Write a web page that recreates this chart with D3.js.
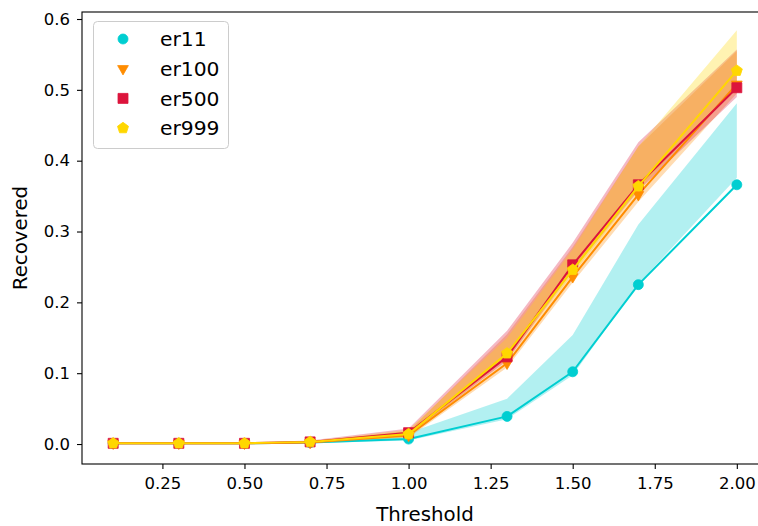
<!DOCTYPE html>
<html>
<head>
<meta charset="utf-8">
<script src="https://cdn.jsdelivr.net/npm/d3@7"></script>
<style>
  html, body { margin: 0; padding: 0; background: #fff; overflow: hidden; }
  svg { display: block; font-family: "DejaVu Sans", sans-serif; }
</style>
</head>
<body>
<svg id="chart" width="758" height="526"></svg>
<script>
// ---- data ----
const thresholds = [0.1, 0.3, 0.5, 0.7, 1.0, 1.3, 1.5, 1.7, 2.0];
const seriesNames = ["er11", "er100", "er500", "er999"];
const seriesColors = ["#00CED1", "#FF8C00", "#DC143C", "#FFD700"];
const seriesMarkers = ["circle", "triangleDown", "square", "pentagon"];

const er11   = [0.001, 0.001, 0.001, 0.002, 0.007, 0.039, 0.102, 0.225, 0.366];
const er11Lo = [0.000, 0.000, 0.000, 0.001, 0.005, 0.035, 0.097, 0.226, 0.376];
const er11Hi = [0.002, 0.002, 0.002, 0.003, 0.016, 0.064, 0.154, 0.310, 0.481];

const er100   = [0.001, 0.001, 0.001, 0.002, 0.012, 0.114, 0.236, 0.352, 0.508];
const er100Lo = [0.000, 0.000, 0.000, 0.001, 0.009, 0.108, 0.228, 0.342, 0.495];
const er100Hi = [0.002, 0.002, 0.002, 0.004, 0.018, 0.155, 0.278, 0.420, 0.555];

const er500   = [0.001, 0.001, 0.001, 0.003, 0.016, 0.123, 0.253, 0.366, 0.503];
const er500Lo = [0.000, 0.000, 0.000, 0.002, 0.012, 0.118, 0.245, 0.358, 0.490];
const er500Hi = [0.002, 0.002, 0.002, 0.005, 0.022, 0.160, 0.284, 0.426, 0.557];

const er999   = [0.001, 0.001, 0.001, 0.003, 0.014, 0.128, 0.246, 0.364, 0.527];
const er999Lo = [0.000, 0.000, 0.000, 0.002, 0.010, 0.122, 0.240, 0.358, 0.510];
const er999Hi = [0.002, 0.002, 0.002, 0.004, 0.020, 0.150, 0.275, 0.420, 0.584];

const xTicks = [0.25, 0.50, 0.75, 1.00, 1.25, 1.50, 1.75, 2.00];
const yTicks = [0.0, 0.1, 0.2, 0.3, 0.4, 0.5, 0.6];

const means = [er11, er100, er500, er999];
const lows  = [er11Lo, er100Lo, er500Lo, er999Lo];
const highs = [er11Hi, er100Hi, er500Hi, er999Hi];

// ---- layout ----
const svg = d3.select("#chart");
const L = 82, R = 768, T = 12, B = 464;
const x = d3.scaleLinear().domain([0.005, 2.095]).range([L, R]);
const y = d3.scaleLinear().domain([-0.0282, 0.6099]).range([B, T]);

function markerPath(type) {
  const p = d3.path();
  if (type === "circle") {
    p.arc(0, 0, 5, 0, 2 * Math.PI);
  } else if (type === "square") {
    p.rect(-5, -5, 10, 10);
  } else if (type === "triangleDown") {
    const r = 6.2;
    p.moveTo(0, r);
    p.lineTo(r * Math.cos(Math.PI / 6) , -r / 2);
    p.lineTo(-r * Math.cos(Math.PI / 6), -r / 2);
    p.closePath();
  } else if (type === "pentagon") {
    const r = 5.8;
    for (let i = 0; i < 5; i++) {
      const a = -Math.PI / 2 + i * 2 * Math.PI / 5;
      const px = r * Math.cos(a), py = r * Math.sin(a);
      if (i === 0) p.moveTo(px, py); else p.lineTo(px, py);
    }
    p.closePath();
  }
  return p.toString();
}

const plot = svg.append("g");

// bands, lines, markers per series
seriesNames.forEach((name, si) => {
  const pts = thresholds.map((t, i) => ({ t, m: means[si][i], lo: lows[si][i], hi: highs[si][i] }));
  const color = seriesColors[si];
  const area = d3.area().x(d => x(d.t)).y0(d => y(d.lo)).y1(d => y(d.hi));
  plot.append("path").attr("d", area(pts))
    .attr("fill", color).attr("fill-opacity", 0.3).attr("stroke", "none");
});
seriesNames.forEach((name, si) => {
  const pts = thresholds.map((t, i) => ({ t, m: means[si][i] }));
  const color = seriesColors[si];
  const line = d3.line().x(d => x(d.t)).y(d => y(d.m));
  plot.append("path").attr("d", line(pts))
    .attr("fill", "none").attr("stroke", color).attr("stroke-width", 2)
    .attr("stroke-linejoin", "round");
  plot.selectAll(null).data(pts).enter().append("path")
    .attr("d", markerPath(seriesMarkers[si]))
    .attr("transform", d => `translate(${x(d.t)},${y(d.m)})`)
    .attr("fill", color).attr("stroke", color).attr("stroke-width", 0.8);
});

// ---- axes ----
const xAxis = d3.axisBottom(x).tickValues(xTicks).tickFormat(d3.format(".2f")).tickSize(5).tickPadding(8);
const yAxis = d3.axisLeft(y).tickValues(yTicks).tickFormat(d3.format(".1f")).tickSize(5).tickPadding(7);

const gx = svg.append("g").attr("transform", `translate(0,${B})`).call(xAxis);
const gy = svg.append("g").attr("transform", `translate(${L},0)`).call(yAxis);
[gx, gy].forEach(g => {
  g.select(".domain").remove();
  g.selectAll(".tick line").attr("stroke", "#000").attr("stroke-width", 1.1);
  g.selectAll(".tick text").attr("fill", "#000").style("font-size", "16.5px")
    .style("font-family", "DejaVu Sans");
});

// spines
svg.append("rect").attr("x", L).attr("y", T).attr("width", R - L).attr("height", B - T)
  .attr("fill", "none").attr("stroke", "#000").attr("stroke-width", 1.1);

// axis labels
svg.append("text").attr("x", (L + R) / 2).attr("y", 521).attr("text-anchor", "middle")
  .style("font-size", "19.8px").attr("fill", "#000").text("Threshold");
svg.append("text").attr("transform", `translate(27,${(T + B) / 2}) rotate(-90)`)
  .attr("text-anchor", "middle").style("font-size", "19.8px").attr("fill", "#000").text("Recovered");

// ---- legend ----
const lg = svg.append("g");
lg.append("rect").attr("x", 93.5).attr("y", 21.5).attr("width", 135).attr("height", 127)
  .attr("rx", 4).attr("ry", 4)
  .attr("fill", "#fff").attr("fill-opacity", 0.8).attr("stroke", "#cccccc").attr("stroke-width", 1);
seriesNames.forEach((name, si) => {
  const cy = 39 + si * 29.7;
  lg.append("path").attr("d", markerPath(seriesMarkers[si]))
    .attr("transform", `translate(123,${cy})`)
    .attr("fill", seriesColors[si]).attr("stroke", seriesColors[si]).attr("stroke-width", 0.8);
  lg.append("text").attr("x", 160).attr("y", cy).attr("dy", "0.36em")
    .style("font-size", "20.3px").attr("fill", "#000").text(name);
});
</script>
</body>
</html>
